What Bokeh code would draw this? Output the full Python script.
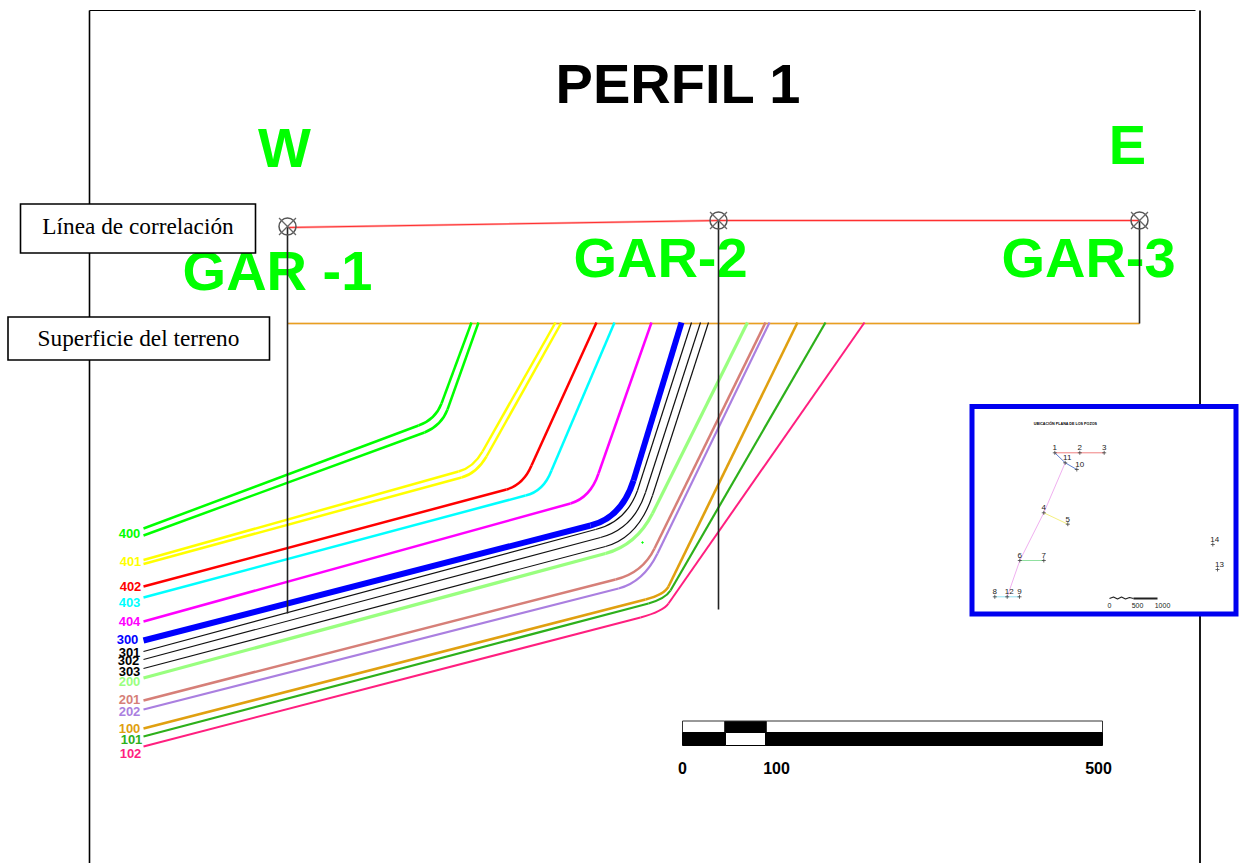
from bokeh.plotting import figure
from bokeh.embed import file_html
from bokeh.resources import INLINE
from bokeh.core.properties import value

# ---------- horizons: codes, colours, paths (start, knee entry, knee control, knee exit, surface) ----------
CODES = ["400", "401", "402", "403", "404", "300", "301", "302", "303", "200", "201", "202", "100", "101", "102"]
LABEL_COLORS = ["#00ff00", "#ffff00", "#ff0000", "#00ffff", "#ff00ff", "#0000ff", "#000000", "#000000", "#000000",
                "#99ff7f", "#d67f78", "#aa7fe0", "#e0a010", "#2db01b", "#ff1f7f"]
LABEL_X = [129, 130, 130, 129, 129, 127, 129, 128, 129, 129, 129, 129, 129, 131, 130]
LABEL_Y = [533, 561, 586, 602, 621, 639, 652, 660, 671, 681, 699, 711, 728, 739, 753]

H400A_X = [143, 418, 435, 441, 471]; H400A_Y = [528, 425, 419, 403, 322]
H400B_X = [143, 424, 441, 447, 478]; H400B_Y = [535, 432, 425, 409, 322]
H401A_X = [143, 458, 473, 482, 555]; H401A_Y = [559.5, 471, 467, 451, 322]
H401B_X = [143, 461, 476, 486, 561]; H401B_Y = [563.5, 477, 473, 456, 322]
H402_X = [143, 506, 523, 531, 596]; H402_Y = [586, 489, 484, 465, 322]
H403_X = [143, 525, 543, 551, 614]; H403_Y = [597, 495, 491, 470, 322]
H404_X = [143, 570, 590, 598, 651]; H404_Y = [621, 503, 497, 473, 322]
H300_X = [143, 590, 621, 633, 681]; H300_Y = [640, 525, 517.5, 480, 322]
H301_X = [143, 595, 625.5, 637, 691]; H301_Y = [651, 529, 521.5, 490, 322]
H302_X = [143, 600, 633, 645, 700]; H302_Y = [659, 537, 528.5, 492, 322]
H303_X = [143, 605, 638, 652, 708]; H303_Y = [668, 546, 537, 495, 322]
H200_X = [143, 605, 636, 652, 747]; H200_Y = [677.5, 553, 544.5, 513, 322]
H201_X = [143, 615, 642, 654, 765]; H201_Y = [700, 579, 572.5, 548, 322]
H202_X = [143, 618, 643, 657, 769]; H202_Y = [709, 588, 581.5, 553, 322]
H100_X = [143, 645, 664, 668, 797]; H100_Y = [728, 599, 594, 586, 322]
H101_X = [143, 648, 665, 670, 825]; H101_Y = [736, 603, 598, 590, 322]
H102_X = [143, 640, 663, 668, 864]; H102_Y = [746, 617, 610.7, 603, 322]

PATHS = [(H400A_X, H400A_Y, 2.5, "#00ff00"), (H400B_X, H400B_Y, 2.5, "#00ff00"),
         (H401A_X, H401A_Y, 2.5, "#ffff00"), (H401B_X, H401B_Y, 2.5, "#ffff00"),
         (H402_X, H402_Y, 2.5, "#ff0000"), (H403_X, H403_Y, 2.5, "#00ffff"),
         (H404_X, H404_Y, 2.5, "#ff00ff"), (H300_X, H300_Y, 6, "#0000ff"),
         (H301_X, H301_Y, 1.2, "#111111"), (H302_X, H302_Y, 1.2, "#111111"),
         (H303_X, H303_Y, 1.2, "#111111"), (H200_X, H200_Y, 3.2, "#99ff7f"),
         (H201_X, H201_Y, 2.5, "#d67f78"), (H202_X, H202_Y, 2.2, "#aa7fe0"),
         (H100_X, H100_Y, 2.6, "#e0a010"), (H101_X, H101_Y, 2.2, "#2db01b"),
         (H102_X, H102_Y, 2.0, "#ff1f7f")]

# ---------- wells and section lines ----------
WELL_NAMES = ["GAR -1", "GAR-2", "GAR-3"]
WELL_X = [287, 718, 1139]
WELL_TOP = [226, 220, 220]
WELL_BOTTOM = [613, 609, 323]
WELL_LABEL_X = [277, 660, 1088]
WELL_LABEL_Y = [292, 279, 279]
SURFACE_X = [287, 1139]; SURFACE_Y = [323, 323]
CORR_X = [287, 718, 1139]; CORR_Y = [227, 220, 220]

# ---------- scale bar ----------
BAR_LABELS = ["0", "100", "500"]
BAR_LABEL_X = [682, 776, 1098]

# ---------- inset map of wells ----------
MAP_IDS = ["1", "2", "3", "11", "10", "4", "5", "6", "7", "8", "12", "9", "14", "13"]
MAP_X = [1054.3, 1079.3, 1103.7, 1064.7, 1076.3, 1043.3, 1067.3, 1019.3, 1043.3, 994.3, 1006.7, 1019, 1212.3, 1217]
MAP_Y = [452.3, 452.3, 452.3, 462.3, 469, 512.3, 523.7, 560, 560, 596.3, 596.3, 596.3, 544, 569]
MAP_LABEL_DX = [0, 0, 0, 2, 3, 0, 0, 0, 0, 0, 2, 0, 2, 2]
MAP_SEGMENTS = [([1054.3, 1103.7], [452.3, 452.3], "#f08080"),
                ([1054.3, 1064.7, 1076.3], [452.3, 462.3, 469], "#6080d0"),
                ([1064.7, 1043.3, 1019.3, 1006.7], [462.3, 512.3, 560, 596.3], "#f0b0f0"),
                ([1043.3, 1067.3], [512.3, 523.7], "#f5f080"),
                ([1019.3, 1043.3], [560, 560], "#90e0a0"),
                ([994.3, 1019], [596.3, 596.3], "#90e0f0")]
MAP_SCALE_LABELS = ["0", "500", "1000"]
MAP_SCALE_X = [1109, 1137, 1162]

BASELINE_SHIFT = 0.39  # the page draws alphabetic text this fraction of its size lower

p = figure(width=1241, height=863, x_range=(0, 1241), y_range=(863, 0),
           output_backend="svg", toolbar_location=None, min_border=0,
           background_fill_color="white", outline_line_color=None)
p.axis.visible = False
p.grid.visible = False

def label(x, y, s, size, color="black", font="Liberation Sans", style="normal", align="center", base="alphabetic"):
    if base == "alphabetic":
        y = y - BASELINE_SHIFT * size
    p.text([x], [y], text=[s], text_font=value(font), text_font_size=value(f"{size}px"), text_color=color,
           text_font_style=style, text_align=align, text_baseline=base)

# frame
p.line([89, 89], [10, 863], line_color="black", line_width=1.6)
p.line([89, 1195], [10, 10], line_color="black", line_width=1.2)
p.line([1199.5, 1199.5], [10, 863], line_color="black", line_width=1.8)

# correlation, surface
p.line(CORR_X, CORR_Y, line_color="#ffb0b0", line_width=2.4)
p.line(CORR_X, CORR_Y, line_color="#ff3030", line_width=1)
p.line(SURFACE_X, SURFACE_Y, line_color="#f3cf9f", line_width=2.4)
p.line(SURFACE_X, SURFACE_Y, line_color="#e8a020", line_width=1)

# horizons: straight limb, rounded knee, straight limb
for xs, ys, w, c in PATHS:
    p.line(xs[:2], ys[:2], line_color=c, line_width=w)
    p.quadratic(x0=[xs[1]], y0=[ys[1]], x1=[xs[3]], y1=[ys[3]], cx=[xs[2]], cy=[ys[2]], line_color=c, line_width=w)
    p.line(xs[3:], ys[3:], line_color=c, line_width=w)
p.scatter([642], [542], size=1.5, marker="circle", color="#00ff00")

# titles
label(678, 105, "PERFIL 1", 56, style="bold")
label(284, 169, "W", 56, "#00ff00", style="bold")
label(1127, 166, "E", 56, "#00ff00", style="bold")
for s, x, y in zip(WELL_NAMES, WELL_LABEL_X, WELL_LABEL_Y):
    label(x, y, s, 56, "#00ff00", style="bold")

# wells
for x, t, b in zip(WELL_X, WELL_TOP, WELL_BOTTOM):
    p.line([x, x], [t, b], line_color="#222222", line_width=1.6)
p.scatter(WELL_X, WELL_TOP, marker="circle", size=17, fill_color=None, line_color="#555555", line_width=1.5)
p.scatter(WELL_X, WELL_TOP, marker="x", size=24, line_color="#666666", line_width=1.3)

# horizon labels
for s, x, y, c in zip(CODES, LABEL_X, LABEL_Y, LABEL_COLORS):
    label(x, y, s, 13, c, style="bold", base="middle")

# call-out boxes
p.quad(left=[20], right=[255], top=[203.5], bottom=[252.5], fill_color="white", line_color="black",
       line_width=1.6, line_join="miter")
p.quad(left=[7.5], right=[269], top=[316.5], bottom=[359.5], fill_color="white", line_color="black",
       line_width=1.6, line_join="miter")
label(137.5, 235, "Línea de correlación", 23.3, font="Liberation Serif")
label(138, 347, "Superficie del terreno", 23.3, font="Liberation Serif")

# scale bar
p.quad(left=[682, 724, 766], right=[724, 766, 1102], top=[720.5] * 3, bottom=[732] * 3,
       fill_color=["white", "black", "white"], line_color="#333333", line_width=1)
p.quad(left=[682, 725, 765], right=[725, 765, 1102], top=[732] * 3, bottom=[745] * 3,
       fill_color=["black", "white", "black"], line_color="black", line_width=1)
for s, x in zip(BAR_LABELS, BAR_LABEL_X):
    label(x, 767, s, 16, style="bold", base="middle")

# inset
p.quad(left=[971.5], right=[1235.5], top=[406], bottom=[613.5], fill_color="white", line_color="#0000f0",
       line_width=5, line_join="miter")
label(1065, 423, "UBICACIÓN PLANA DE LOS POZOS", 3.7, style="bold", base="middle")
for xs, ys, c in MAP_SEGMENTS:
    p.line(xs, ys, line_color=c, line_width=1)
p.scatter(MAP_X, MAP_Y, marker="cross", size=4, line_color="#444444", line_width=0.8)
for s, x, y, dx in zip(MAP_IDS, MAP_X, MAP_Y, MAP_LABEL_DX):
    label(x + dx, y - 5, s, 8, color="#222222", base="middle")
p.line([1109, 1113, 1117, 1121, 1125, 1129, 1133], [598, 596.5, 598.5, 596.5, 598.5, 597, 598],
       line_color="#222222", line_width=1.2)
p.line([1133, 1157], [598, 598], line_color="#222222", line_width=2)
for s, x in zip(MAP_SCALE_LABELS, MAP_SCALE_X):
    label(x, 605, s, 7, color="#222222", base="middle")

open("out.html", "w").write(file_html(p, INLINE))
